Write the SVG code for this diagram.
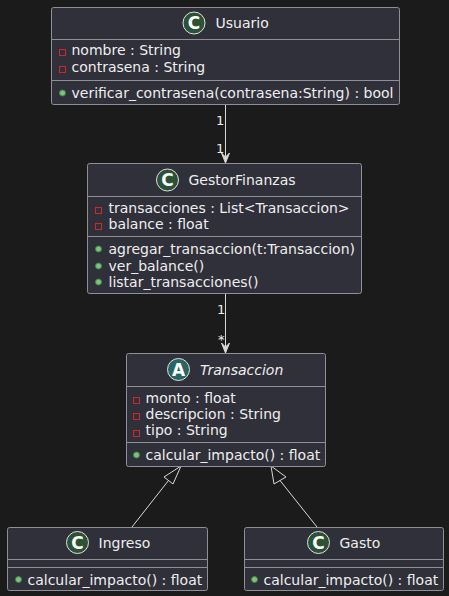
<svg xmlns="http://www.w3.org/2000/svg" width="449" height="596" viewBox="0 0 449 596">
<style>
.box{fill:#30303a;stroke:#8f8f95;stroke-width:1}
.div{stroke:#8f8f95;stroke-width:1}
text{font-family:"DejaVu Sans",sans-serif;font-size:14px;fill:#eeeeee}
.priv{fill:none;stroke:#c8282e;stroke-width:1}
.pub{fill:#84be84;stroke:#3a8a3a;stroke-width:1}
.circC{fill:#2b5234;stroke:#e0e0e0;stroke-width:1}
.circA{fill:#296565;stroke:#e0e0e0;stroke-width:1}
.sp{font-family:"DejaVu Sans",sans-serif;font-size:17px;font-weight:bold;fill:#ffffff}
.ln{stroke:#d8d8d8;stroke-width:1;fill:none}
.lbl{font-size:13px}
</style>
<rect width="449" height="596" fill="#1b1b1b"/>
<g id="connectors">
<line class="ln" x1="225.5" y1="104" x2="225.5" y2="162"/>
<polygon points="225.5,163 221.5,153 225.5,157 229.5,153" fill="#d8d8d8" stroke="#d8d8d8"/>
<text class="lbl" x="216" y="125">1</text>
<text class="lbl" x="216" y="153">1</text>
<line class="ln" x1="225.5" y1="293" x2="225.5" y2="352"/>
<polygon points="225.5,353 221.5,343 225.5,347 229.5,343" fill="#d8d8d8" stroke="#d8d8d8"/>
<text class="lbl" x="217" y="314">1</text>
<text class="lbl" x="218" y="344">*</text>
<line class="ln" x1="132" y1="527" x2="168.5" y2="480.5"/>
<polygon class="ln" points="181,466 164,477 173,484"/>
<line class="ln" x1="317" y1="527" x2="280" y2="480.5"/>
<polygon class="ln" points="271,466 274,484 286,477"/>
</g>
<g id="Usuario">
<rect class="box" x="51.5" y="7.5" width="348" height="97" rx="2"/>
<line class="div" x1="51.5" y1="39.5" x2="399.5" y2="39.5"/>
<line class="div" x1="51.5" y1="80.5" x2="399.5" y2="80.5"/>
<circle class="circC" cx="194" cy="23" r="11"/>
<text class="sp" x="194" y="29" text-anchor="middle">C</text>
<text x="215.5" y="28">Usuario</text>
<rect class="priv" x="59.5" y="49.5" width="6" height="6"/>
<text x="71.5" y="55">nombre : String</text>
<rect class="priv" x="59.5" y="66.5" width="6" height="6"/>
<text x="71.5" y="72">contrasena : String</text>
<circle class="pub" cx="62.5" cy="93" r="3"/>
<text x="71.5" y="98">verificar_contrasena(contrasena:String) : bool</text>
</g>
<g id="GestorFinanzas">
<rect class="box" x="87.5" y="163.5" width="274" height="130" rx="2"/>
<line class="div" x1="87.5" y1="196.5" x2="361.5" y2="196.5"/>
<line class="div" x1="87.5" y1="236.5" x2="361.5" y2="236.5"/>
<circle class="circC" cx="167.5" cy="180" r="11"/>
<text class="sp" x="167.5" y="186" text-anchor="middle">C</text>
<text x="188.5" y="185">GestorFinanzas</text>
<rect class="priv" x="95.5" y="207.5" width="6" height="6"/>
<text x="108.5" y="213">transacciones : List&lt;Transaccion&gt;</text>
<rect class="priv" x="95.5" y="223.5" width="6" height="6"/>
<text x="108.5" y="229">balance : float</text>
<circle class="pub" cx="98.5" cy="249" r="3"/>
<text x="108.5" y="254">agregar_transaccion(t:Transaccion)</text>
<circle class="pub" cx="98.5" cy="266" r="3"/>
<text x="108.5" y="271">ver_balance()</text>
<circle class="pub" cx="98.5" cy="282" r="3"/>
<text x="108.5" y="287">listar_transacciones()</text>
</g>
<g id="Transaccion">
<rect class="box" x="126.5" y="353.5" width="199" height="113" rx="2"/>
<line class="div" x1="126.5" y1="386.5" x2="325.5" y2="386.5"/>
<line class="div" x1="126.5" y1="442.5" x2="325.5" y2="442.5"/>
<circle class="circA" cx="178.5" cy="369.5" r="11"/>
<text class="sp" x="178.5" y="375.5" text-anchor="middle">A</text>
<text x="200" y="375" font-style="italic">Transaccion</text>
<rect class="priv" x="133.5" y="397.5" width="6" height="6"/>
<text x="145.5" y="403">monto : float</text>
<rect class="priv" x="133.5" y="413.5" width="6" height="6"/>
<text x="145.5" y="419">descripcion : String</text>
<rect class="priv" x="133.5" y="430.5" width="6" height="6"/>
<text x="145.5" y="435">tipo : String</text>
<circle class="pub" cx="136.5" cy="455" r="3"/>
<text x="145.5" y="460">calcular_impacto() : float</text>
</g>
<g id="Ingreso">
<rect class="box" x="7.5" y="527.5" width="200" height="63" rx="2"/>
<line class="div" x1="7.5" y1="559.5" x2="207.5" y2="559.5"/>
<line class="div" x1="7.5" y1="567.5" x2="207.5" y2="567.5"/>
<circle class="circC" cx="77.5" cy="542.5" r="11"/>
<text class="sp" x="77.5" y="548.5" text-anchor="middle">C</text>
<text x="98.5" y="548">Ingreso</text>
<circle class="pub" cx="18.5" cy="579.5" r="3"/>
<text x="27.5" y="584.5">calcular_impacto() : float</text>
</g>
<g id="Gasto">
<rect class="box" x="244.5" y="527.5" width="199" height="63" rx="2"/>
<line class="div" x1="244.5" y1="559.5" x2="443.5" y2="559.5"/>
<line class="div" x1="244.5" y1="567.5" x2="443.5" y2="567.5"/>
<circle class="circC" cx="318.5" cy="542.5" r="11"/>
<text class="sp" x="318.5" y="548.5" text-anchor="middle">C</text>
<text x="339.5" y="548">Gasto</text>
<circle class="pub" cx="254.5" cy="579.5" r="3"/>
<text x="263.5" y="584.5">calcular_impacto() : float</text>
</g>
</svg>
